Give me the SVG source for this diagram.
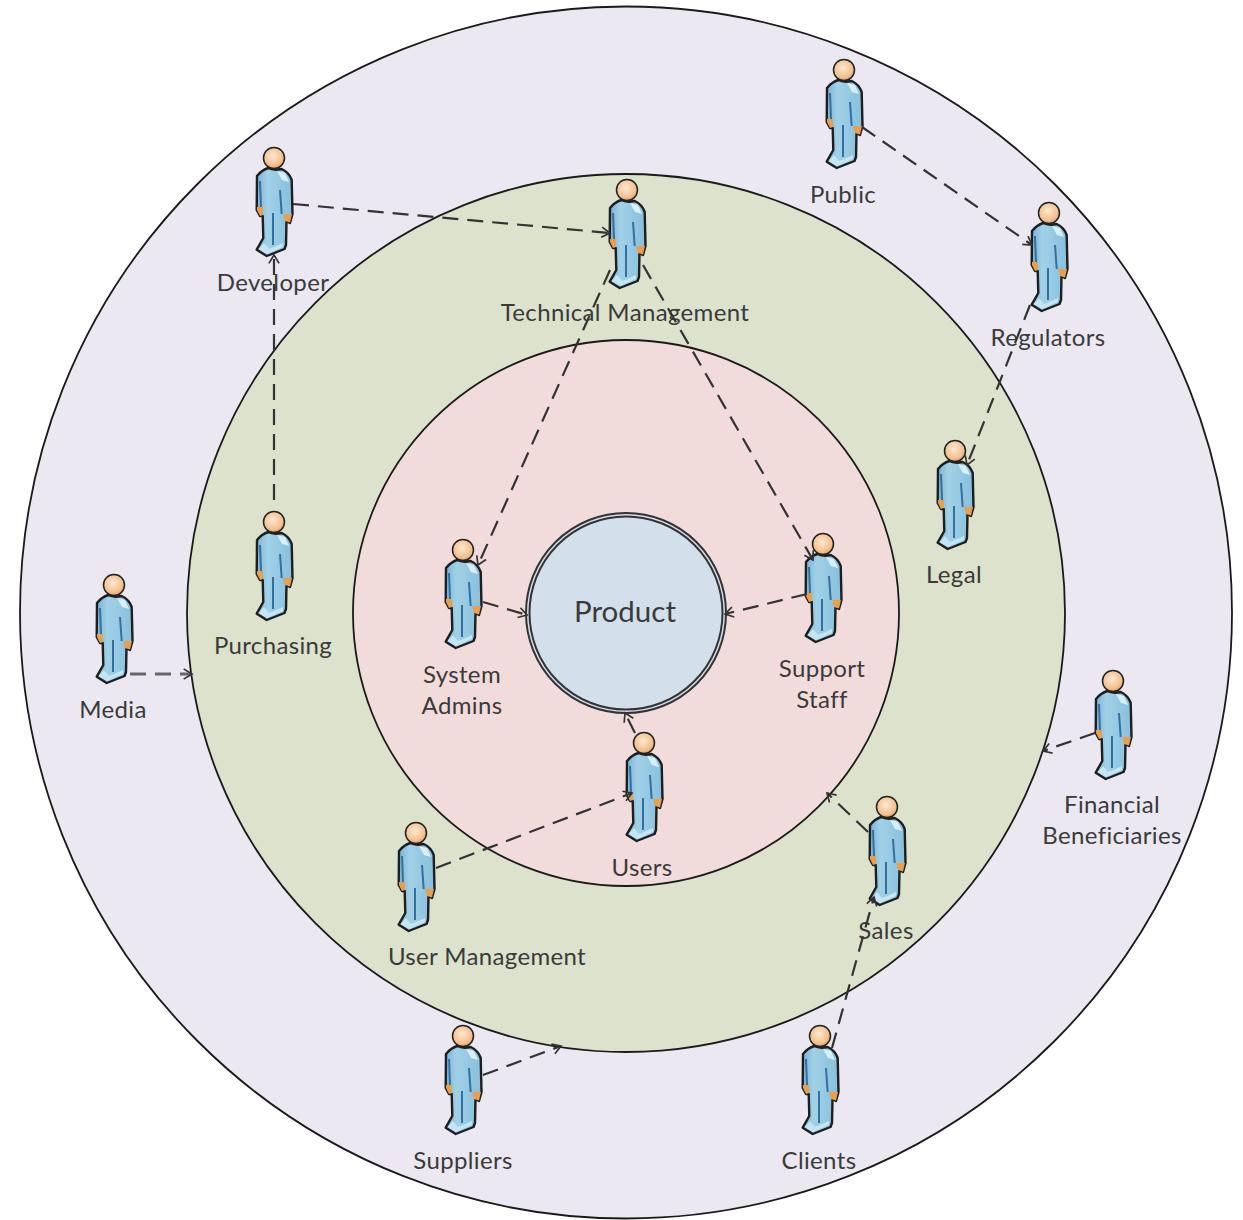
<svg xmlns="http://www.w3.org/2000/svg" width="1243" height="1220" viewBox="0 0 1243 1220">
<style>
.ring{stroke:#1a1a1a;stroke-width:1.8}
.lbl{font-family:Lato,"Liberation Sans",sans-serif;font-size:24px;letter-spacing:.35px;fill:#3a3a3a;text-anchor:middle}
#connectors line{stroke:#333;stroke-width:2.2;stroke-dasharray:16 9;fill:none;marker-end:url(#arr)}
#connectors line.heavy{stroke:#666;stroke-width:3}
</style>
<defs>
<marker id="arr" viewBox="0 0 14 14" refX="12" refY="7" markerWidth="13" markerHeight="13" markerUnits="userSpaceOnUse" orient="auto">
<path d="M3 1.500 L12 7 L3 12.500" fill="none" stroke="#333" stroke-width="1.800"/>
</marker>
<linearGradient id="bodyG" x1="0" y1="0" x2="1" y2="0">
<stop offset="0" stop-color="#78b2d6"/><stop offset="0.3" stop-color="#a2d1e7"/><stop offset="1" stop-color="#86bfdd"/>
</linearGradient>
<radialGradient id="headG" cx="0.45" cy="0.4" r="0.65">
<stop offset="0" stop-color="#fde8cf"/><stop offset="0.7" stop-color="#f3c08e"/><stop offset="1" stop-color="#d98e55"/>
</radialGradient>
<g id="person">
<path d="M-5 8 L6 8 L6 13 L-5 13Z" fill="#d9553a"/>
<path d="M-17 18 C-13 13 -9 11 -5.700 10 C-2 12 3 12 7.700 11 C12 13 16 17 17.700 22 L18.500 56 L16 65 L12.500 63 L12 87 L10.500 91 L-7.300 98 L-17.300 91.700 L-10.700 80 L-11.300 58 L-14 58 L-17.300 52Z" fill="url(#bodyG)" stroke="#1e1e1e" stroke-width="2.400" stroke-linejoin="round"/>
<path d="M-17 49 L-11 49 L-11 57 L-14 58 L-17 52Z" fill="#e8a04e"/>
<path d="M9 56 L18 56 L16 64.500 L11 63Z" fill="#e8a04e"/>
<path d="M-14 23 L-13 49 M6 32 L7.700 56 M-1 55 L-1 87" fill="none" stroke="#33709f" stroke-width="2"/>
<path d="M3 13 L11 15 L15 24 L8 22Z" fill="#d8eff8"/>
<path d="M-15.500 91 L-7 96 L9 89 L9 85 L0 89 L-5 91 L-10 85Z" fill="#c4e6f4"/>
<circle cx="0" cy="0" r="10.500" fill="url(#headG)" stroke="#222" stroke-width="1.500"/>
</g>
</defs>
<rect width="1243" height="1220" fill="#fff"/>
<g id="ring-outer"><circle class="ring" cx="626" cy="612.500" r="606" fill="#ebe8f2"/></g>
<g id="ring-middle"><circle class="ring" cx="626" cy="613" r="439" fill="#dce2cc"/></g>
<g id="ring-inner"><circle class="ring" cx="626" cy="613" r="273" fill="#f2dcdb"/></g>
<g id="product">
<circle cx="626" cy="613" r="100" fill="#d3dfeb" stroke="#333" stroke-width="2"/>
<circle cx="626" cy="613" r="96.500" fill="none" stroke="#333" stroke-width="2"/>
<text x="625" y="622" font-family="Lato,'Liberation Sans',sans-serif" font-size="29.500" fill="#3a3a3a" text-anchor="middle">Product</text>
</g>
<g id="public"><use href="#person" x="844" y="70"/><text class="lbl" x="843" y="203">Public</text></g>
<g id="regulators"><use href="#person" x="1049" y="213"/><text class="lbl" x="1048" y="346">Regulators</text></g>
<g id="technical-management"><use href="#person" x="627" y="190"/><text class="lbl" x="625" y="321">Technical Management</text></g>
<g id="developer"><use href="#person" x="274" y="158"/><text class="lbl" x="273" y="291">Developer</text></g>
<g id="legal"><use href="#person" x="955" y="451"/><text class="lbl" x="954" y="583">Legal</text></g>
<g id="purchasing"><use href="#person" x="274" y="522"/><text class="lbl" x="273" y="654">Purchasing</text></g>
<g id="media"><use href="#person" x="114" y="585"/><text class="lbl" x="113" y="718">Media</text></g>
<g id="system-admins"><use href="#person" x="463" y="550"/><text class="lbl" x="462" y="683">System</text><text class="lbl" x="462" y="714">Admins</text></g>
<g id="support-staff"><use href="#person" x="823" y="544"/><text class="lbl" x="822" y="677">Support</text><text class="lbl" x="822" y="708">Staff</text></g>
<g id="users"><use href="#person" x="644" y="743"/><text class="lbl" x="642" y="876">Users</text></g>
<g id="user-management"><use href="#person" x="416" y="833"/><text class="lbl" x="487" y="965">User Management</text></g>
<g id="sales"><use href="#person" x="887" y="807"/><text class="lbl" x="886" y="939">Sales</text></g>
<g id="financial-beneficiaries"><use href="#person" x="1113" y="681"/><text class="lbl" x="1112" y="813">Financial</text><text class="lbl" x="1112" y="844">Beneficiaries</text></g>
<g id="suppliers"><use href="#person" x="463" y="1036"/><text class="lbl" x="463" y="1169">Suppliers</text></g>
<g id="clients"><use href="#person" x="820" y="1036"/><text class="lbl" x="819" y="1169">Clients</text></g>
<g id="connectors">
<line x1="293" y1="204" x2="610" y2="233"/>
<line x1="862" y1="127" x2="1032" y2="245"/>
<line x1="1030" y1="305" x2="967" y2="465"/>
<line x1="610" y1="270" x2="478" y2="565"/>
<line x1="643" y1="265" x2="813" y2="560"/>
<line x1="274" y1="500" x2="274" y2="255"/>
<line class="heavy" x1="130" y1="674" x2="192" y2="674"/>
<line x1="483" y1="602" x2="527" y2="615"/>
<line x1="807" y1="594" x2="725" y2="614"/>
<line x1="635" y1="733" x2="625" y2="713"/>
<line x1="436" y1="868" x2="632" y2="793"/>
<line x1="868" y1="832" x2="827" y2="793"/>
<line x1="1095" y1="733" x2="1043" y2="751"/>
<line x1="483" y1="1075" x2="561" y2="1046"/>
<line x1="832" y1="1048" x2="874" y2="897"/>
</g>
</svg>
